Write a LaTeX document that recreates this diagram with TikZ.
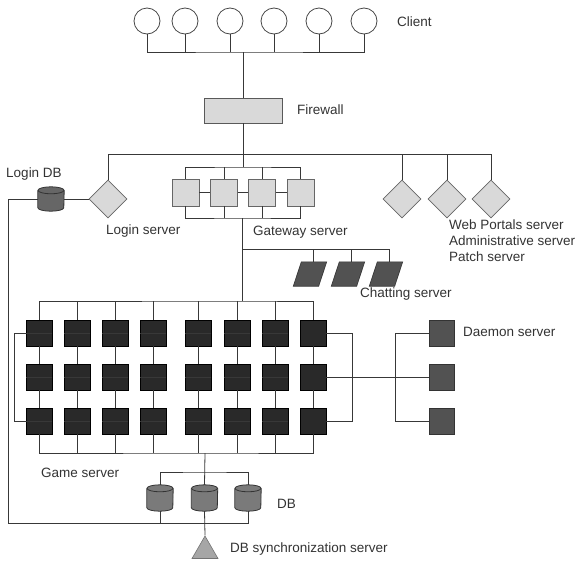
\documentclass[tikz,border=0pt]{standalone}
\usepackage{fontspec}
\setmainfont{Liberation Sans}
\usetikzlibrary{shapes.geometric}

% 円柱（DB）
\newcommand{\drawdb}[2]{%
    \fill[#2] ([yshift=-3.5pt]#1.north west) -- ([yshift=3.5pt]#1.south west)
        arc[start angle=180, end angle=360, x radius=13pt, y radius=3.5pt]
        -- ([yshift=-3.5pt]#1.north east)
        arc[start angle=0, end angle=180, x radius=13pt, y radius=3.5pt] -- cycle;
    \draw[dbline] ([yshift=-3.5pt]#1.north west) -- ([yshift=3.5pt]#1.south west)
        arc[start angle=180, end angle=360, x radius=13pt, y radius=3.5pt]
        -- ([yshift=-3.5pt]#1.north east);
    \draw[dbline] ([yshift=-3.5pt]#1.north) ellipse[x radius=13pt, y radius=3.5pt];
}

\begin{document}
\begin{tikzpicture}[x=1pt, y=-1pt,
    line/.style={draw=black!78, line width=0.8pt},
    lbl/.style={text=black!80, font=\fontsize{13.5}{16}\selectfont, inner sep=0pt, anchor=west},
    client/.style={circle, draw=black!72, fill=white, line width=0.8pt, minimum size=26pt, inner sep=0pt},
    fwall/.style={rectangle, draw=black!65, fill=black!15, line width=0.8pt, minimum width=78pt, minimum height=25pt, inner sep=0pt},
    gate/.style={rectangle, draw=black!60, fill=black!15, line width=0.8pt, minimum size=27pt, inner sep=0pt},
    dia/.style={diamond, draw=black!60, fill=black!15, line width=0.8pt, minimum width=38pt, minimum height=38pt, inner sep=0pt},
    chatbox/.style={rectangle, minimum width=33pt, minimum height=24pt, inner sep=0pt},
    chat/.style={draw=black!80, fill=black!68, line width=0.6pt},
    game/.style={rectangle, draw=black, fill=black!84, line width=0.6pt, minimum size=26pt, inner sep=0pt},
    daemon/.style={rectangle, draw=black!80, fill=black!68, line width=0.6pt, minimum width=25pt, minimum height=26pt, inner sep=0pt},
    dbbox/.style={rectangle, minimum width=26pt, minimum height=26pt, inner sep=0pt},
    dbline/.style={draw=black!80, line width=0.8pt},
    sync/.style={regular polygon, regular polygon sides=3, draw=black!55, fill=black!35, line width=0.6pt, minimum size=30pt, inner sep=0pt}]
        %サーバー構成図
        \useasboundingbox (0,0) rectangle (578,560);

        % Client
        \foreach \x [count=\i] in {147,185,230,274,319,364}
            \node[client] (c\i) at (\x,21) {};
        \coordinate (cbus) at (243,52);
        \draw[line] (c1.south) |- (cbus) -| (c6.south);
        \foreach \i in {2,...,5}
            \draw[line] (c\i.south) -- (c\i.south |- cbus);
        \node[lbl] (clientlbl) at (397,22) {Client};

        % Firewall
        \node[fwall] (fw) at (243,110.5) {};
        \draw[line] (cbus) -- (fw.north);
        \node[lbl] (fwlbl) at (297,110) {Firewall};

        % Login / Web portals
        \node[dia] (login) at (108,199) {};
        \foreach \x [count=\i] in {402,447,491}
            \node[dia] (w\i) at (\x,199) {};
        \coordinate (wbus) at (491,154);
        \draw[line] (login.north) |- (wbus) -- (w3.north);
        \foreach \i in {1,2}
            \draw[line] (w\i.north) -- (w\i.north |- wbus);
        \node[dbbox, minimum height=24pt] (logindb) at (51,199) {};
        \drawdb{logindb}{black!60}
        \draw[line] (logindb.east) -- (login.west);
        \node[lbl, anchor=center] (logindblbl) at (34,174) {Login DB};
        \node[lbl] (loginlbl) at (106,231) {Login server};
        \node[lbl] (weblbl) at (449,225) {Web Portals server};
        \node[lbl] (adminlbl) at (449,241) {Administrative server};
        \node[lbl] (patchlbl) at (449,257) {Patch server};

        % Gateway
        \foreach \x [count=\i] in {185.5,224,262,300.5}
            \node[gate] (g\i) at (\x,192.5) {};
        \coordinate (gtop) at (243,167);
        \coordinate (gbot) at (242,218);
        \draw[line] (fw.south) -- (gtop);
        \draw[line] (g1.north) |- (gtop) -| (g4.north);
        \draw[line] (g1.south) |- (gbot) -| (g4.south);
        \foreach \i in {2,3} {
            \draw[line] (g\i.north) -- (g\i.north |- gtop);
            \draw[line] (g\i.south) -- (g\i.south |- gbot);
        }
        \foreach \i/\j in {1/2,2/3,3/4}
            \draw[line] (g\i.east) -- (g\j.west);
        \node[lbl] (gatelbl) at (253,232) {Gateway server};

        % Chatting
        \foreach \x [count=\i] in {310,348,386} {
            \node[chatbox] (ch\i) at (\x,274) {};
            \draw[chat] ([xshift=8pt]ch\i.north west) -- (ch\i.north east)
                -- ([xshift=-8pt]ch\i.south east) -- (ch\i.south west) -- cycle;
        }
        \coordinate (chbus) at (242,249);
        \draw[line] (chbus) -| ([xshift=3pt]ch3.north);
        \foreach \i in {1,2}
            \draw[line] ([xshift=3pt]ch\i.north) -- ([xshift=3pt]ch\i.north |- chbus);
        \node[lbl] (chatlbl) at (360,294) {Chatting server};

        % Game
        \coordinate (gmtop) at (242,301);
        \coordinate (gmbot) at (205,453);
        \draw[line] (gbot) -- (gmtop);
        \foreach \x [count=\i] in {39,77,115,153,198,237,275,313}
            \foreach \y [count=\j] in {333,377,421}
                \node[game] (s\j-\i) at (\x,\y) {};
        \draw[line] (s1-1.north) |- (gmtop) -| (s1-8.north);
        \draw[line] (s3-1.south) |- (gmbot) -| (s3-8.south);
        \foreach \i in {1,...,8} {
            \draw[line] (s1-\i.south) -- (s2-\i.north);
            \draw[line] (s2-\i.south) -- (s3-\i.north);
        }
        \foreach \i in {2,...,7} {
            \draw[line] (s1-\i.north) -- (s1-\i.north |- gmtop);
            \draw[line] (s3-\i.south) -- (s3-\i.south |- gmbot);
        }
        \foreach \j in {1,2,3}
            \foreach \i [evaluate=\i as \k using int(\i+1)] in {1,...,7}
                \draw[line] (s\j-\i.east) -- (s\j-\k.west);
        \draw[line] (s1-1.west) -- ++(-11,0) |- (s3-1.west);
        \draw[line] (s1-8.east) -- ++(26,0) |- (s3-8.east);
        \node[lbl] (gamelbl) at (41,473) {Game server};

        % Daemon
        \foreach \y [count=\j] in {333,377,421}
            \node[daemon] (d\j) at (441.5,\y) {};
        \draw[line] (s2-8.east) -- (d2.west);
        \draw[line] (d1.west) -- ++(-33,0) |- (d3.west);
        \node[lbl] (daemonlbl) at (463,332) {Daemon server};

        % DB
        \foreach \x [count=\i] in {160,204.5,248} {
            \node[dbbox] (db\i) at (\x,498) {};
            \drawdb{db\i}{black!52}
        }
        \coordinate (dbbus) at (205,472);
        \coordinate (ldbc) at (8,523);
        \draw[line] (gmbot) -- (db2.north);
        \draw[line] (db1.north) |- (dbbus) -| (db3.north);
        \draw[line] (logindb.west) -| (ldbc) -| (db3.south);
        \draw[line] (db1.south) -- (db1.south |- ldbc);
        \node[lbl] (dblbl) at (277,504) {DB};

        % DB synchronization
        \node[sync] (sync) at (205,551) {};
        \draw[line] (db2.south) -- (sync.corner 1);
        \node[lbl] (synclbl) at (230,549) {DB synchronization server};
    \end{tikzpicture}
\end{document}
